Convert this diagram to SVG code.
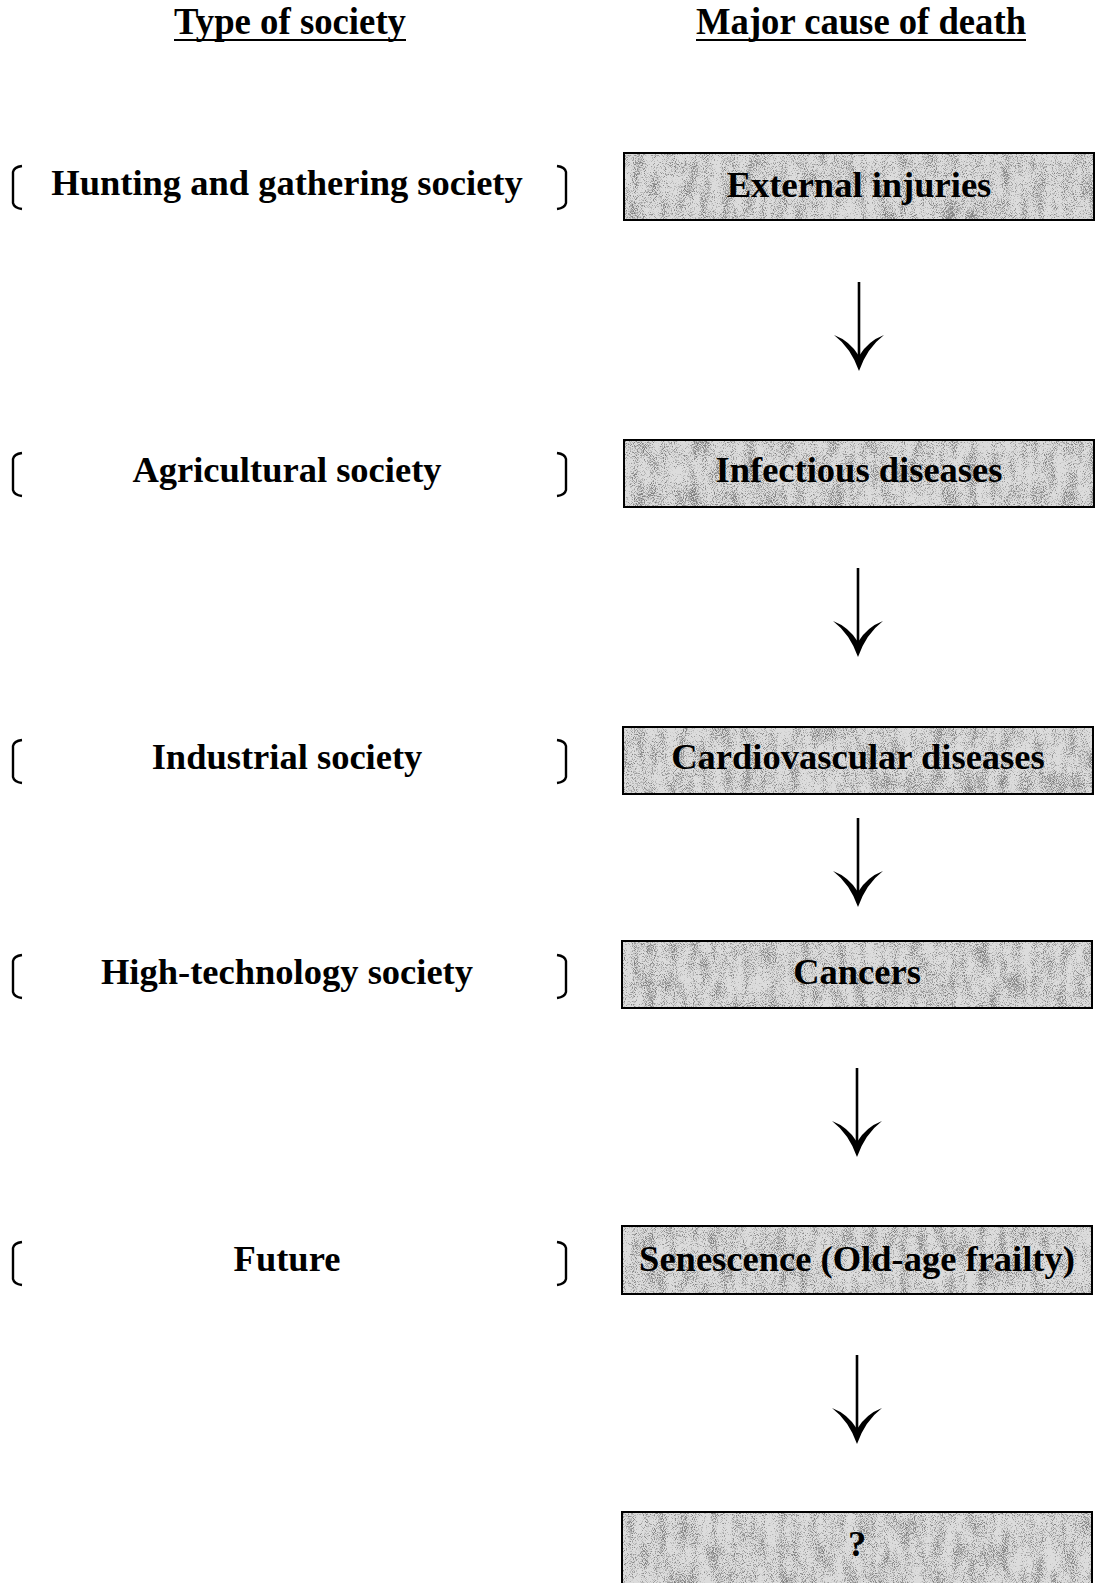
<svg xmlns="http://www.w3.org/2000/svg" width="1096" height="1583" viewBox="0 0 1096 1583">
<style>
  .hdr{font-family:"Liberation Serif","Times New Roman",serif;font-weight:bold;font-size:38px;fill:#000}
  .lbl{font-family:"Liberation Serif","Times New Roman",serif;font-weight:bold;font-size:36.5px;fill:#000;text-anchor:middle}
  .br{fill:none;stroke:#000;stroke-width:2.4}
  .box{fill:none;stroke:#000;stroke-width:2}
  .bg{fill:#dcdcdc}
  .shaft{stroke:#000;stroke-width:2.6;fill:none}
  .head{fill:#000}
</style>
<defs>
  <filter id="speckle" x="0" y="0" width="100%" height="100%" color-interpolation-filters="sRGB">
    <feTurbulence type="fractalNoise" baseFrequency="0.09 0.035" numOctaves="2" seed="3" result="n1"/>
    <feColorMatrix in="n1" type="matrix" values="1 0 0 0 0  1 0 0 0 0  1 0 0 0 0  0 0 0 0 1" result="a1"/>
    <feTurbulence type="fractalNoise" baseFrequency="1.1" numOctaves="1" seed="9" result="n2"/>
    <feColorMatrix in="n2" type="matrix" values="1 0 0 0 0  1 0 0 0 0  1 0 0 0 0  0 0 0 0 1" result="a2"/>
    <feComposite in="a1" in2="a2" operator="arithmetic" k1="0" k2="0.3" k3="0.7" k4="0" result="m"/>
    <feColorMatrix in="m" type="matrix" values="0 0 0 0 0.45  0 0 0 0 0.45  0 0 0 0 0.45  3.6 0 0 0 -1.6" result="g"/>
    <feComponentTransfer in="g" result="d">
      <feFuncA type="discrete" tableValues="0 0.1 0.35 0.6 0.8 0.9"/>
    </feComponentTransfer>
    <feComposite in="d" in2="SourceGraphic" operator="in"/>
  </filter>
</defs>
<rect width="1096" height="1583" fill="#fff"/>

<g id="headers">
  <text class="hdr" x="174" y="34" textLength="232" lengthAdjust="spacingAndGlyphs">Type of society</text>
  <line x1="174" y1="40" x2="406" y2="40" stroke="#000" stroke-width="2"/>
  <text class="hdr" x="696" y="34" textLength="330" lengthAdjust="spacingAndGlyphs">Major cause of death</text>
  <line x1="696" y1="40" x2="1026" y2="40" stroke="#000" stroke-width="2"/>
</g>

<g id="society-hunting">
  <path class="br" d="M22 166 Q14 167 13 172 L13 203 Q14 208 22 209"/>
  <path class="br" d="M557 166 Q565 167 566 172 L566 203 Q565 208 557 209"/>
  <text class="lbl" x="287" y="195">Hunting and gathering society</text>
</g>
<g id="society-agricultural">
  <path class="br" d="M22 453 Q14 454 13 459 L13 490 Q14 495 22 496"/>
  <path class="br" d="M557 453 Q565 454 566 459 L566 490 Q565 495 557 496"/>
  <text class="lbl" x="287" y="482">Agricultural society</text>
</g>
<g id="society-industrial">
  <path class="br" d="M22 740 Q14 741 13 746 L13 777 Q14 782 22 783"/>
  <path class="br" d="M557 740 Q565 741 566 746 L566 777 Q565 782 557 783"/>
  <text class="lbl" x="287" y="769">Industrial society</text>
</g>
<g id="society-hightech">
  <path class="br" d="M22 955 Q14 956 13 961 L13 992 Q14 997 22 998"/>
  <path class="br" d="M557 955 Q565 956 566 961 L566 992 Q565 997 557 998"/>
  <text class="lbl" x="287" y="984">High-technology society</text>
</g>
<g id="society-future">
  <path class="br" d="M22 1242 Q14 1243 13 1248 L13 1279 Q14 1284 22 1285"/>
  <path class="br" d="M557 1242 Q565 1243 566 1248 L566 1279 Q565 1284 557 1285"/>
  <text class="lbl" x="287" y="1271">Future</text>
</g>

<g id="cause-external">
  <rect class="bg" x="624" y="153" width="470" height="67"/>
  <rect x="624" y="153" width="470" height="67" filter="url(#speckle)" fill="#000"/>
  <rect class="box" x="624" y="153" width="470" height="67"/>
  <text class="lbl" x="859" y="197">External injuries</text>
</g>
<g id="cause-infectious">
  <rect class="bg" x="624" y="440" width="470" height="67"/>
  <rect x="624" y="440" width="470" height="67" filter="url(#speckle)" fill="#000"/>
  <rect class="box" x="624" y="440" width="470" height="67"/>
  <text class="lbl" x="859" y="482">Infectious diseases</text>
</g>
<g id="cause-cardio">
  <rect class="bg" x="623" y="727" width="470" height="67"/>
  <rect x="623" y="727" width="470" height="67" filter="url(#speckle)" fill="#000"/>
  <rect class="box" x="623" y="727" width="470" height="67"/>
  <text class="lbl" x="858" y="769">Cardiovascular diseases</text>
</g>
<g id="cause-cancers">
  <rect class="bg" x="622" y="941" width="470" height="67"/>
  <rect x="622" y="941" width="470" height="67" filter="url(#speckle)" fill="#000"/>
  <rect class="box" x="622" y="941" width="470" height="67"/>
  <text class="lbl" x="857" y="984">Cancers</text>
</g>
<g id="cause-senescence">
  <rect class="bg" x="622" y="1226" width="470" height="68"/>
  <rect x="622" y="1226" width="470" height="68" filter="url(#speckle)" fill="#000"/>
  <rect class="box" x="622" y="1226" width="470" height="68"/>
  <text class="lbl" x="857" y="1271">Senescence (Old-age frailty)</text>
</g>
<g id="cause-unknown">
  <rect class="bg" x="622" y="1512" width="470" height="80"/>
  <rect x="622" y="1512" width="470" height="80" filter="url(#speckle)" fill="#000"/>
  <rect class="box" x="622" y="1512" width="470" height="80"/>
  <text class="lbl" x="857" y="1556">?</text>
</g>

<g id="connectors">
  <line class="shaft" x1="859" y1="282" x2="859" y2="362"/>
  <path class="head" d="M834 335 Q851 348 859 371 Q867 348 884 335 Q868 341 859 356 Q850 341 834 335 Z"/>
  <line class="shaft" x1="858" y1="568" x2="858" y2="648"/>
  <path class="head" d="M833 621 Q850 634 858 657 Q866 634 883 621 Q867 627 858 642 Q849 627 833 621 Z"/>
  <line class="shaft" x1="858" y1="818" x2="858" y2="898"/>
  <path class="head" d="M833 871 Q850 884 858 907 Q866 884 883 871 Q867 877 858 892 Q849 877 833 871 Z"/>
  <line class="shaft" x1="857" y1="1068" x2="857" y2="1148"/>
  <path class="head" d="M832 1121 Q849 1134 857 1157 Q865 1134 882 1121 Q866 1127 857 1142 Q848 1127 832 1121 Z"/>
  <line class="shaft" x1="857" y1="1355" x2="857" y2="1435"/>
  <path class="head" d="M832 1408 Q849 1421 857 1444 Q865 1421 882 1408 Q866 1414 857 1429 Q848 1414 832 1408 Z"/>
</g>
</svg>
